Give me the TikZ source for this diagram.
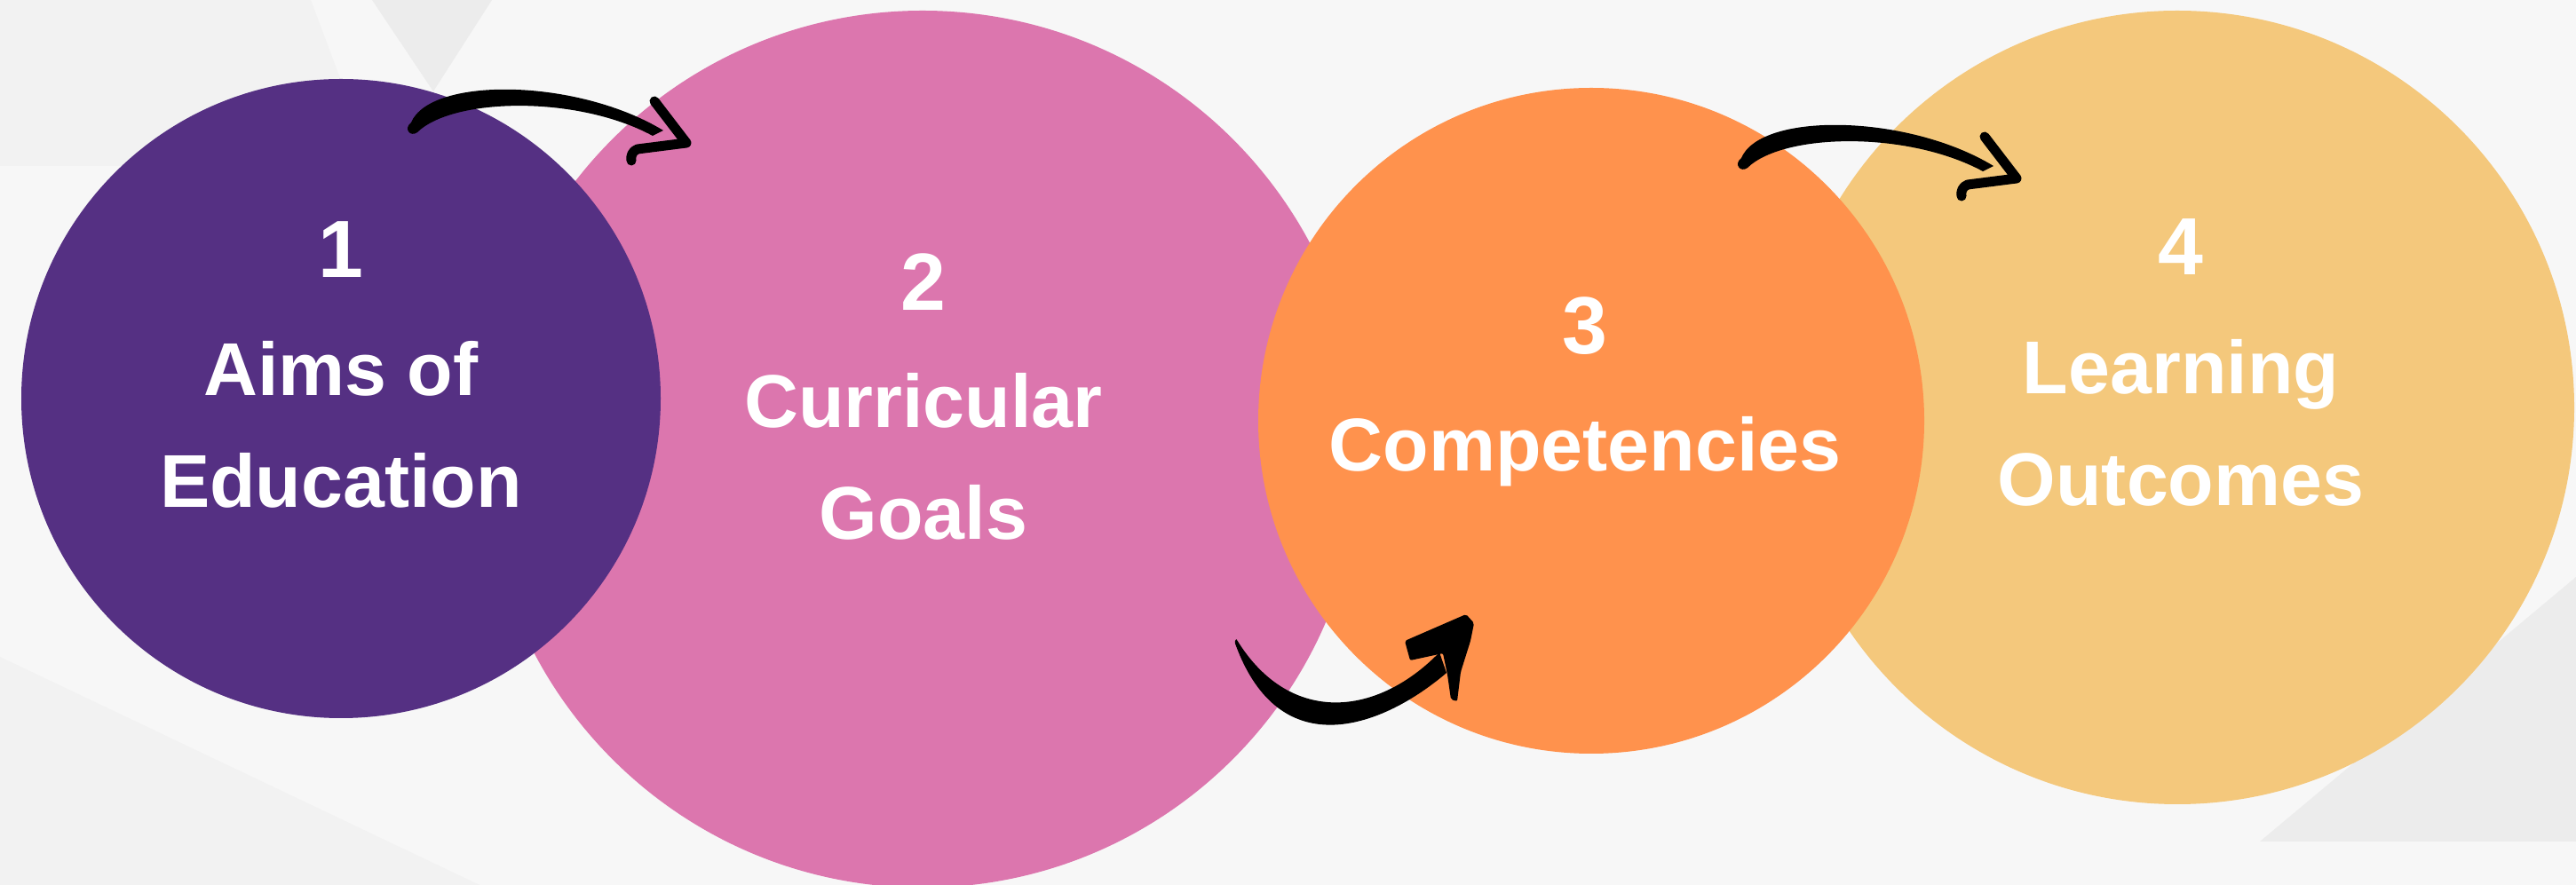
\documentclass[tikz,border=0pt]{standalone}
\usepackage{fontspec}
\setmainfont{Liberation Sans}
\usetikzlibrary{calc}
\definecolor{aimpurple}{HTML}{553083}
\definecolor{goalpink}{HTML}{DC76AE}
\definecolor{comporange}{HTML}{FF924D}
\definecolor{outyellow}{HTML}{F4C87C}
\definecolor{bggray}{HTML}{F7F7F7}
\definecolor{bgmid}{HTML}{F2F2F2}
\definecolor{bgdark}{HTML}{ECECEC}
\def\swoosh(#1,#2)#3{%
	\begin{scope}[shift={(#1,#2)}]
		\coordinate (#3) at (3.10,-0.23);
		\fill (0,0) .. controls (0.22,0.52) and (1.87,0.50) .. (2.84,-0.09)
			-- (2.72,-0.15) .. controls (1.87,0.31) and (0.47,0.28) .. (0.07,-0.11)
			.. controls (-0.01,-0.17) and (-0.09,-0.07) .. (0,0) -- cycle;
		\draw[barb] (2.74,0.24) -- (#3) -- (2.55,-0.30) .. controls (2.49,-0.32) and (2.47,-0.38) .. (2.48,-0.43);
	\end{scope}}

\begin{document}
\begin{tikzpicture}[
	bubble/.style={circle, inner sep=0pt, minimum size=#1},
	num/.style={text=white, font=\fontsize{26}{30}\selectfont\bfseries, anchor=base},
	lbl/.style={text=white, font=\fontsize{24}{36.1}\selectfont\bfseries, align=center, anchor=base},
	barb/.style={draw=black, line width=0.11cm, line cap=round, line join=round}]
			%%%%% START %%%%%
			
			\useasboundingbox (0,0) rectangle (29.01,-9.97);
			\fill[bggray] (0,0) rectangle (29.01,-9.97);
			\fill[bgmid] (0,0) -- (3.50,0) -- (4.20,-1.87) -- (0,-1.87) -- cycle;
			\fill[bgdark] (4.19,0) -- (5.54,0) -- (4.88,-1.03) -- cycle;
			\fill[bgmid] (0,-7.40) -- (5.40,-9.97) -- (0,-9.97) -- cycle;
			\fill[bgdark] (25.45,-9.48) -- (29.01,-9.48) -- (29.01,-6.50) -- cycle;
			
			\node[bubble=9.88cm, fill=goalpink] (c2) at (10.39,-5.06) {};
			\node[bubble=8.94cm, fill=outyellow] (c4) at (24.52,-4.59) {};
			\node[bubble=7.20cm, fill=aimpurple] (c1) at (3.84,-4.49) {};
			\node[bubble=7.50cm, fill=comporange] (c3) at (17.92,-4.74) {};
			
			% last line of each label sits on the anchor
			\node[num] (n1) at (3.84,-3.13) {1};
			\node[lbl] (l1) at (3.84,-5.72) {Aims of\\Education};
			
			\node[num] (n2) at (10.40,-3.50) {2};
			\node[lbl] (l2) at (10.40,-6.08) {Curricular\\Goals};
			
			\node[num] (n3) at (17.85,-3.99) {3};
			\node[lbl] (l3) at (17.85,-5.31) {Competencies};
			
			\node[num] (n4) at (24.56,-3.10) {4};
			\node[lbl] (l4) at (24.56,-5.70) {Learning\\Outcomes};
			
			% arrows 1 -> 2 and 3 -> 4
			\swoosh(4.63,-1.38){tip1}
			\swoosh(19.61,-1.78){tip2}
			
			% arrow 2 -> 3
			\coordinate (tail3) at (13.93,-7.21);
			\coordinate (tip3) at (16.55,-6.95);
			\fill (13.91,-7.25) .. controls (14.42,-8.66) and (15.60,-8.17) .. (16.29,-7.58)
				-- (16.21,-7.35) .. controls (15.50,-8.08) and (14.52,-8.17) .. (tail3)
				.. controls (13.93,-7.19) and (13.90,-7.21) .. (13.91,-7.25) -- cycle;
			\fill[rounded corners=0.02cm] (15.82,-7.22) -- (16.51,-6.92) -- (16.60,-7.02) -- (16.56,-7.22)
				-- (16.45,-7.57) -- (16.41,-7.90) -- (16.34,-7.88) -- (16.30,-7.60) -- (16.25,-7.36)
				-- (15.88,-7.44) -- cycle;
			
			%%%%% END %%%%%
\end{tikzpicture}
\end{document}
